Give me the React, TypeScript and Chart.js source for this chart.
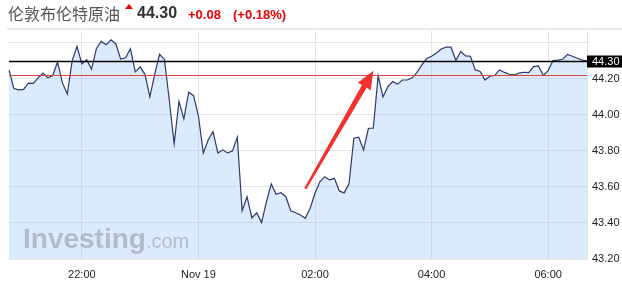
import React, { useEffect, useRef } from 'react';
import { Chart, registerables } from 'chart.js';

Chart.register(...registerables);

const TITLE = '伦敦布伦特原油';
const LAST_PRICE = 44.3;
const CHANGE = '+0.08';
const CHANGE_PCT = '(+0.18%)';
const PREV_CLOSE = 44.22;

const TIMES = [
  '20:45', '20:50', '20:55',
  '21:00', '21:05', '21:10', '21:15', '21:20', '21:25', '21:30', '21:35', '21:40', '21:45', '21:50', '21:55',
  '22:00', '22:05', '22:10', '22:15', '22:20', '22:25', '22:30', '22:35', '22:40', '22:45', '22:50', '22:55',
  '23:00', '23:05', '23:10', '23:15', '23:20', '23:25', '23:30', '23:35', '23:40', '23:45', '23:50', '23:55',
  '00:00', '00:05', '00:10', '00:15', '00:20', '00:25', '00:30', '00:35', '00:40', '00:45', '00:50', '00:55',
  '01:00', '01:05', '01:10', '01:15', '01:20', '01:25', '01:30', '01:35', '01:40', '01:45', '01:50', '01:55',
  '02:00', '02:05', '02:10', '02:15', '02:20', '02:25', '02:30', '02:35', '02:40', '02:45', '02:50', '02:55',
  '03:00', '03:05', '03:10', '03:15', '03:20', '03:25', '03:30', '03:35', '03:40', '03:45', '03:50', '03:55',
  '04:00', '04:05', '04:10', '04:15', '04:20', '04:25', '04:30', '04:35', '04:40', '04:45', '04:50', '04:55',
  '05:00', '05:05', '05:10', '05:15', '05:20', '05:25', '05:30', '05:35', '05:40', '05:45', '05:50', '05:55',
  '06:00', '06:05', '06:10', '06:15', '06:20', '06:25', '06:30', '06:35', '06:40',
];

const PRICES = [
  44.25, 44.147, 44.139,
  44.142, 44.176, 44.175, 44.206, 44.232, 44.206, 44.219, 44.294, 44.178, 44.116, 44.3, 44.381,
  44.283, 44.306, 44.253, 44.369, 44.408, 44.39, 44.417, 44.394, 44.31, 44.317, 44.367, 44.239,
  44.267, 44.224, 44.1, 44.227, 44.337, 44.308, 44.083, 43.839, 44.075, 43.978, 44.126, 44.107,
  43.994, 43.789, 43.861, 43.907, 43.789, 43.806, 43.789, 43.799, 43.876, 43.468, 43.546, 43.428,
  43.456, 43.402, 43.518, 43.617, 43.559, 43.568, 43.546, 43.468, 43.457, 43.444, 43.426, 43.482,
  43.565, 43.629, 43.657, 43.639, 43.648, 43.578, 43.567, 43.617, 43.871, 43.876, 43.806, 43.926,
  43.926, 44.217, 44.1, 44.157, 44.185, 44.171, 44.194, 44.194, 44.206, 44.236, 44.278, 44.313,
  44.326, 44.344, 44.366, 44.376, 44.376, 44.302, 44.352, 44.328, 44.326, 44.25, 44.241, 44.194,
  44.215, 44.219, 44.25, 44.236, 44.226, 44.222, 44.232, 44.237, 44.235, 44.268, 44.272, 44.219,
  44.246, 44.302, 44.304, 44.309, 44.336, 44.326, 44.315, 44.304, 44.3,
];

const X_TICK_LABELS: Record<string, string> = {
  '22:00': '22:00',
  '00:00': 'Nov 19',
  '02:00': '02:00',
  '04:00': '04:00',
  '06:00': '06:00',
};

const Y_TICKS = [43.2, 43.4, 43.6, 43.8, 44.0, 44.2, 44.4];
const Y_HIDDEN_LABELS = [44.4];
const Y_MIN = 43.2;
const Y_MAX = 44.466;

const ARROW_FROM = { time: '01:50', price: 43.59 };
const ARROW_TO = { time: '03:00', price: 44.245 };

const FONT = '"Liberation Sans", Arial, sans-serif';

const overlayPlugin = {
  id: 'overlay',
  afterDatasetsDraw(chart: any) {
    const { ctx, chartArea, scales } = chart;
    const { left, right } = chartArea;
    const x = scales.x;
    const y = scales.y;
    ctx.save();

    // watermark
    ctx.fillStyle = 'rgba(105,105,110,0.36)';
    ctx.textBaseline = 'alphabetic';
    ctx.textAlign = 'left';
    ctx.font = 'bold 28px ' + FONT;
    ctx.fillText('Investing', left + 14, 248);
    const w = ctx.measureText('Investing').width;
    ctx.font = '20px ' + FONT;
    ctx.fillText('.com', left + 14 + w, 248);

    // previous close line
    const yPrev = Math.round(y.getPixelForValue(PREV_CLOSE)) + 0.5;
    ctx.strokeStyle = '#d6453d';
    ctx.lineWidth = 1;
    ctx.beginPath();
    ctx.moveTo(left, yPrev);
    ctx.lineTo(right, yPrev);
    ctx.stroke();

    // last price line
    const yLast = Math.round(y.getPixelForValue(LAST_PRICE)) + 0.5;
    ctx.strokeStyle = '#000';
    ctx.lineWidth = 1.3;
    ctx.beginPath();
    ctx.moveTo(left, yLast);
    ctx.lineTo(right, yLast);
    ctx.stroke();

    // last price box
    ctx.fillStyle = '#000';
    ctx.fillRect(right, yLast - 6, chart.width - right, 12);
    ctx.fillStyle = '#fff';
    ctx.font = '11px ' + FONT;
    ctx.textBaseline = 'middle';
    ctx.fillText(LAST_PRICE.toFixed(2), right + 5, yLast + 0.5);

    // arrow
    const x1 = x.getPixelForValue(TIMES.indexOf(ARROW_FROM.time));
    const y1 = y.getPixelForValue(ARROW_FROM.price);
    const x2 = x.getPixelForValue(TIMES.indexOf(ARROW_TO.time));
    const y2 = y.getPixelForValue(ARROW_TO.price);
    const ang = Math.atan2(y2 - y1, x2 - x1);
    const len = Math.hypot(x2 - x1, y2 - y1);
    const headL = 18;
    const headW = 7.5;
    const w0 = 1.2;
    const w1 = 2.7;
    ctx.translate(x1, y1);
    ctx.rotate(ang);
    ctx.fillStyle = '#f4312f';
    ctx.beginPath();
    ctx.moveTo(0, -w0);
    ctx.lineTo(len - headL, -w1);
    ctx.lineTo(len - headL, -headW);
    ctx.lineTo(len, 0);
    ctx.lineTo(len - headL, headW);
    ctx.lineTo(len - headL, w1);
    ctx.lineTo(0, w0);
    ctx.closePath();
    ctx.fill();

    ctx.restore();
  },
};

export default function App() {
  const ref = useRef<HTMLCanvasElement | null>(null);

  useEffect(() => {
    if (!ref.current) return;
    Chart.defaults.font.family = FONT;
    const chart = new Chart(ref.current, {
      type: 'line',
      data: {
        labels: TIMES,
        datasets: [
          {
            data: PRICES,
            borderColor: '#2d3a6b',
            borderWidth: 1.2,
            backgroundColor: 'rgba(160,203,250,0.38)',
            fill: 'start',
            pointRadius: 0,
            tension: 0,
          },
        ],
      },
      options: {
        animation: false,
        responsive: false,
        maintainAspectRatio: false,
        layout: { padding: { left: 8, top: 31, right: 0, bottom: 0 } },
        plugins: { legend: { display: false }, tooltip: { enabled: false } },
        scales: {
          x: {
            type: 'category',
            offset: false,
            grid: {
              color: (c: any) =>
                X_TICK_LABELS[TIMES[c.index]] ? '#e3e3e3' : 'rgba(0,0,0,0)',
              drawTicks: false,
            },
            border: { display: false },
            ticks: {
              autoSkip: false,
              maxRotation: 0,
              minRotation: 0,
              padding: 9,
              color: '#222',
              font: { size: 11 },
              callback: (_v: any, i: number) => X_TICK_LABELS[TIMES[i]] ?? '',
            },
            afterFit: (s: any) => {
              s.height = 27;
            },
          },
          y: {
            position: 'right',
            min: Y_MIN,
            max: Y_MAX,
            afterBuildTicks: (s: any) => {
              s.ticks = Y_TICKS.map((v) => ({ value: v }));
            },
            grid: { color: '#e3e3e3', drawTicks: false },
            border: { display: true, color: '#e3e3e3' },
            ticks: {
              padding: 5,
              color: '#222',
              font: { size: 11 },
              callback: (v: any) =>
                Y_HIDDEN_LABELS.includes(Number(v)) ? '' : Number(v).toFixed(2),
            },
            afterFit: (s: any) => {
              s.width = 35;
            },
          },
        },
      },
      plugins: [overlayPlugin],
    });
    return () => chart.destroy();
  }, []);

  return (
    <div
      style={{
        position: 'absolute',
        left: 0,
        top: 0,
        width: 622,
        height: 286,
        background: '#fff',
        overflow: 'hidden',
      }}
    >
      <canvas
        ref={ref}
        width={622}
        height={286}
        style={{ position: 'absolute', left: 0, top: 0, display: 'block' }}
      />
      <div
        style={{
          position: 'absolute',
          left: 8,
          top: 5,
          font: '16px "Noto Sans CJK SC", sans-serif',
          lineHeight: '16px',
          color: '#555',
          whiteSpace: 'nowrap',
        }}
      >
        {TITLE}
      </div>
      <div
        style={{
          position: 'absolute',
          left: 125,
          top: 4,
          width: 0,
          height: 0,
          borderLeft: '4px solid transparent',
          borderRight: '4px solid transparent',
          borderBottom: '5px solid #e00',
        }}
      />
      <div
        style={{
          position: 'absolute',
          left: 137,
          top: 5,
          font: 'bold 16px ' + FONT,
          lineHeight: '16px',
          color: '#333',
          whiteSpace: 'nowrap',
        }}
      >
        {LAST_PRICE.toFixed(2)}
      </div>
      <div
        style={{
          position: 'absolute',
          left: 188,
          top: 8,
          font: 'bold 13px ' + FONT,
          lineHeight: '13px',
          color: '#e00',
          whiteSpace: 'nowrap',
        }}
      >
        {CHANGE}
      </div>
      <div
        style={{
          position: 'absolute',
          left: 233,
          top: 8,
          font: 'bold 13px ' + FONT,
          lineHeight: '13px',
          color: '#e00',
          whiteSpace: 'nowrap',
        }}
      >
        {CHANGE_PCT}
      </div>
      <div
        style={{
          position: 'absolute',
          left: 7,
          top: 28,
          width: 615,
          height: 2,
          background: '#e8e8e8',
        }}
      />
    </div>
  );
}
